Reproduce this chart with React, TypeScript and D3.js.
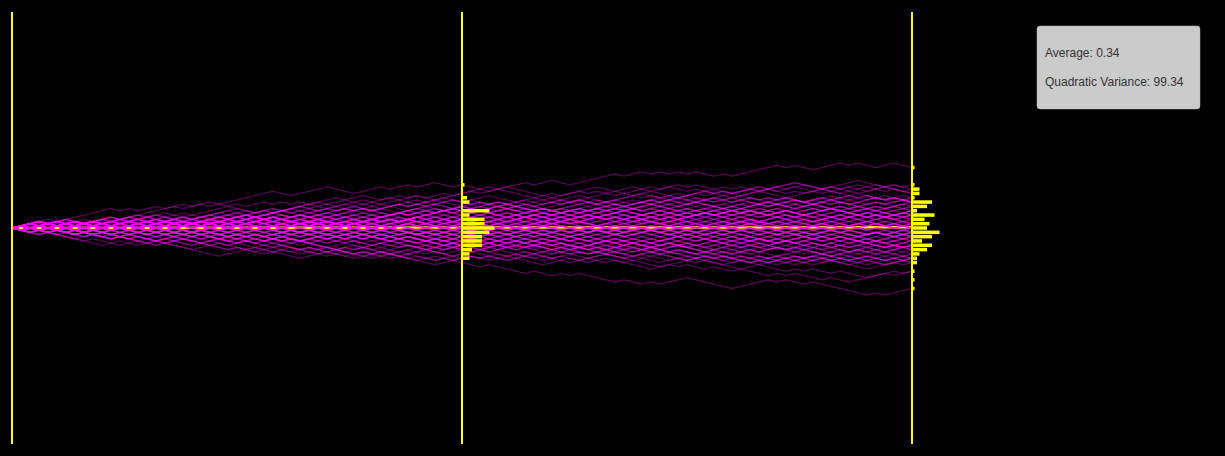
import { useEffect, useRef } from "react";
import * as d3 from "d3";

// each walk: 100 steps packed as hex (first 48 steps | last 52 steps), bit 1 = up, bit 0 = down
const walks = [
  "f7eb5df9e3b6 4a178c25e0936", "d73feab571eb 6c1e94bae725d", "b5ed2f97de4b 38ae16d290b57", "e37daf1b6e79 f7b3ed52fa74c",
  "7ce1b5df38eb 92d64ea17c0b7", "dab4ef3972ed 1c85e209b46da", "5e7b1dcf8eb6 a4792ecb16d35", "b3d8e6f17ace 75e2bf94da7c1",
  "e1b75d9e2f6a 4d0c785b29e16", "6eb19d7c3e8b d2af6b1e947c5", "ad3e725bc91f 81c4062b851ae", "37e4bad16f2e 50bec2794da67",
  "e95b2dc71eab 64da83e1b5c27", "b61fce49d37a 9e257cb0dae36", "72dea5b8fc39 c1e46b2ad8593", "dc719e6b4af5 eb37fad29e0bc",
  "ae5d27cb83ed 294b0c51e8ad3", "5be91f3da87c b461da2e8c097", "c7ae4b6d29f5 3d8ea751bfc26", "91ed5ab734e7 a62bce159d836",
  "e52bc791da6e 08c31e4a2691b", "6d94eab387cd 725e91cba4d63", "ba1d65e8c79b ec47a3d26b91e", "3e8ba51dc679 4b92ea86dc153",
  "d627c9e4ab53 7ea1f6bcd25e8", "a751ecb92d63 160a8d2c49e71", "cb38ea6d1579 5e29b4acd1678", "95e2db1a74ce bf3e7ad5e2bc4",
  "61de93b8a75c e4a06b291dc35", "bc47ae259d36 2dc875ea1b963", "e9a1b67c25d3 85ad20ce4961b", "73cd1ae94b56 ab6e32d7c9e51",
  "5d2ae9c1b633 c7491ea2d58b4", "a4e672bc91d5 3b8ec16d2a794", "d19b38ea5c72 6e5ad4b9c172e", "9c72ad64e5b8 0418c20a1e569",
  "b2c5e197a4d3 fa71ed6bc3e92", "e683ba1d5c27 92b64ec87a1d8", "4da972e5c1b6 d5e2ab971cf43", "ce15b94a73d8 a17c0e94b52d8",
  "792d6ce1ab43 e83ba4d62c759", "6b2e91cd4a78 d3a1b68e52c74", "a1d58e372cb4 2c861b0a4d91e", "e54bc29d1678 b73d1fae6c2d4",
  "38bae461dc95 74c92dae16835", "9d1c72a4e5b8 5ae2bc71d96e4", "c4e6b13d8a72 18a0d4c2691e3", "5e872c9b4d1a ef973b2daec74",
  "b26da8e1c574 8ec3d1ab46297", "7a1e54bc29d8 49b2c8e06a1d5", "d649e2a71c36 ad51ec4b92763", "2b9e8c5d4a63 e168b32ad4c98",
  "97c1ad2e58b4 6bd2ea791ce53", "ec38b61ad495 f7eb3dfa7e2b0", "8da26e1cb495 3e1a78c4d62b1", "4a71c9e25d86 b52d94ea17c86",
  "c1b58ea2d439 0928e14c0a61f", "62d94bc1ae85 7c1ea5b29d636", "ae431d8b62c9 9d62ba4ec1753", "58ec2ad19b46 d40a61b8c29e5",
  "b19e46c8da23 e6bf2a7cd19e8", "3d2ae85b1c64 68d1ace429b07", "e917c4a2b586 1bca8e5d26479", "2cad61e49b85 daf3e71b4ce27",
  "94eb25c8d1a6 a72ce491bd852", "1a64d98ce253 80c2e4a169d27", "c29e4a1785d4 b6e1ad38c75e2", "68b2cd4a1e92 5da47c2eb1693",
  "a51d86e2c4b8 290c4e18a62d5", "4e91b2c68da1 73ea1db6cf298", "d158ac2e6493 e4cb926d1a875", "9b261ea8d4c2 61ad83e2bc491",
  "3ce851ba2d84 ab4e9c17d2536", "8a1d46e29c15 062c8d14a9e26", "25e1c8a4d691 e9b3d27ac1f64", "c49e21ad8562 b386e1ca4d295",
  "51b8a4ec29d0 7deaf3b2ec70d", "e2641c98ba34 91d0ac4b268e5", "a8d251e4c962 3e71c4ad29b86", "4b16e82adc18 d5c2be961a733",
  "92cd84ae1652 1a60e8c294d1e", "18c4e2a90d65 6b9e2cd1a7453", "a251d864ce28 ce491b86d2a54", "64d18ac2e095 ba72ef5dc19e8",
  "e1942c8b61a4 5d2ac8e31b946", "8c25d14ae982 9be461adc2785", "49e1a268dd10 e73bad2f8ec1b", "c81a64e291d4 2094c1e80a27d",
  "52b81ca46e21 ae61d9cb4732e", "28a1c4d0961e 94bc261e8ad05", "614e892c0ab1 cd279e15b4a63", "a41d285c1e42 e38b16c4da298",
  "8e20ac16d492 b51ad94e6c278", "1c84a2e091d8 7ae2bc9d1f546", "4092ce81a274 61d8c0a4e291b", "921c864d0a2a de5b1af7c2e94",
  "81e04a2c1689 ad492e61bc874", "24910c8e2a45 6b2ea7c1d934e", "c18260a4e192 084a12e0f4817", "402c81d0e2a1 e51bc8da27963",
];

// histogram at step 50
const midValues = [20, 14, 12, 8, 6, 4, 2, 0, -2, -4, -6, -8, -10, -12, -14];
const midCounts = [1, 2, 3, 11, 3, 9, 9, 13, 11, 8, 8, 8, 4, 3, 3];

// histogram at step 100
const endValues = [28, 20, 18, 16, 14, 12, 10, 8, 6, 4, 2, 0, -2, -4, -6, -8, -10, -12, -14, -16, -20, -24, -28];
const endCounts = [1, 1, 3, 3, 1, 8, 6, 2, 9, 5, 7, 6, 11, 8, 4, 8, 6, 3, 2, 2, 1, 1, 1];

const markerSteps = [0, 50, 100];
const averageSteps = [0, 100];
const averageValues = [0, 0.34];
const statLines = ["Average: 0.34", "Quadratic Variance: 99.34"];

function walkPoints(hex) {
  const bits = hex.replace(/\s/g, "").split("")
    .flatMap(c => parseInt(c, 16).toString(2).padStart(4, "0").split(""));
  const pts = [0];
  bits.forEach(b => pts.push(pts[pts.length - 1] + (b === "1" ? 1 : -1)));
  return pts;
}

export default function App() {
  const svgRef = useRef(null);

  useEffect(() => {
    document.body.style.margin = "0";
    document.body.style.background = "#000";

    const svg = d3.select(svgRef.current);
    svg.selectAll("*").remove();

    const x = d3.scaleLinear().domain([0, 100]).range([12, 912]);
    const y = d3.scaleLinear().domain([-100, 100]).range([444, 12]);
    const barW = d3.scaleLinear().domain([0, 13]).range([0, 32.5]);

    // average path, under the walks
    const avgLine = d3.line().x(d => x(d[0])).y(d => y(d[1]));
    svg.append("path")
      .datum(averageSteps.map((s, i) => [s, averageValues[i]]))
      .attr("d", avgLine)
      .attr("fill", "none")
      .attr("stroke", "yellow")
      .attr("stroke-width", 2.5);

    const line = d3.line().x((d, i) => x(i)).y(d => y(d));
    svg.append("g")
      .selectAll("path")
      .data(walks.map(walkPoints))
      .enter()
      .append("path")
      .attr("d", line)
      .attr("fill", "none")
      .attr("stroke", "#ff00ff")
      .attr("stroke-opacity", 0.33)
      .attr("stroke-width", 1.3);

    const hist = (step, values, counts) => {
      svg.append("g")
        .selectAll("rect")
        .data(values.map((v, i) => ({ v, c: counts[i] })))
        .enter()
        .append("rect")
        .attr("x", x(step))
        .attr("y", d => y(d.v + 1) + 0.4)
        .attr("width", d => barW(d.c))
        .attr("height", d => y(d.v - 1) - y(d.v + 1) - 0.8)
        .attr("fill", "yellow");
    };
    hist(50, midValues, midCounts);
    hist(100, endValues, endCounts);

    svg.append("g")
      .selectAll("line")
      .data(markerSteps)
      .enter()
      .append("line")
      .attr("x1", d => x(d))
      .attr("x2", d => x(d))
      .attr("y1", y(100))
      .attr("y2", y(-100))
      .attr("stroke", "yellow")
      .attr("stroke-width", 2);

    const box = svg.append("g").attr("transform", "translate(1037,26)");
    box.append("rect")
      .attr("width", 163)
      .attr("height", 83)
      .attr("rx", 3)
      .attr("fill", "#cbcbcb")
      .attr("stroke", "#b5b5b5")
      .attr("stroke-width", 0.5);
    box.selectAll("text")
      .data(statLines)
      .enter()
      .append("text")
      .attr("x", 8)
      .attr("y", (d, i) => 31 + i * 28.5)
      .attr("font-family", "'Liberation Sans', Arial, sans-serif")
      .attr("font-size", 12)
      .attr("fill", "#333")
      .text(d => d);
  }, []);

  return <svg ref={svgRef} width={1225} height={456} style={{ display: "block", background: "#000" }}></svg>;
}
